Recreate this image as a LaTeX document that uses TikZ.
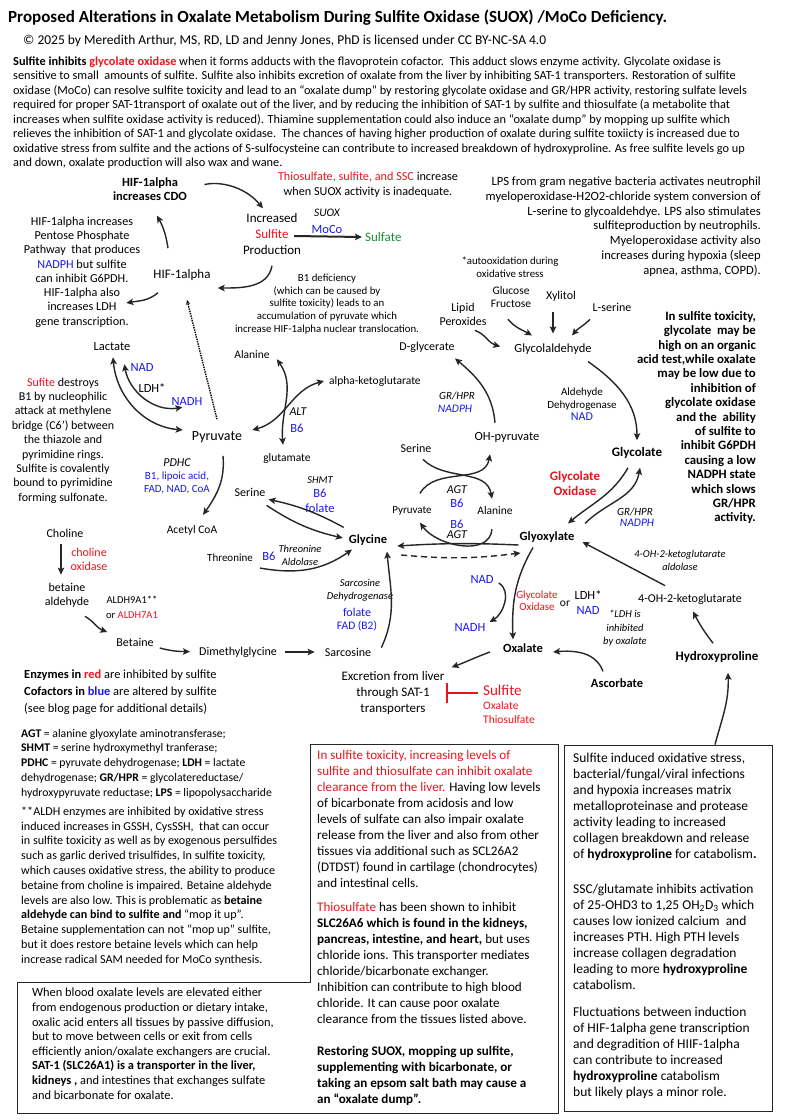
\documentclass[tikz,border=0pt]{standalone}
\usepackage{fontspec}
\setmainfont{Carlito}
\usetikzlibrary{arrows.meta}
\definecolor{enzred}{RGB}{235,20,30}
\definecolor{cofblue}{RGB}{25,25,235}
\definecolor{sulfgreen}{RGB}{30,140,50}
\newcommand{\fsz}[2]{\fontsize{#1}{#2}\selectfont}

\begin{document}
\begin{tikzpicture}[x=1pt, y=1pt,
      every node/.style={inner sep=1pt},
      met/.style={font=\fsz{12}{14}},
      metb/.style={font=\fsz{12.5}{14}\bfseries},
      enz/.style={font=\fsz{11}{13}\itshape},
      cof/.style={font=\fsz{12.5}{14}, text=cofblue},
      line/.style={draw=black!85, line width=1.4pt,
      -{Stealth[length=7pt, width=6.5pt, inset=1.5pt]}},
      dline/.style={line, {Stealth[length=7pt, width=6.5pt, inset=1.5pt]}-{Stealth[length=7pt, width=6.5pt, inset=1.5pt]}},
      inh/.style={draw=enzred, line width=2.2pt, -{Bar[width=20pt]}},
      boxline/.style={draw=black!85, line width=0.8pt}
    ]
    \fill[white] (0,0) rectangle (785,-1120);
    \useasboundingbox (0,0) rectangle (785,-1120);

    % Header
    \node[anchor=west, font=\fsz{17}{19}\bfseries] (title) at (7,-18) {Proposed Alterations in Oxalate Metabolism During Sulfite Oxidase (SUOX) /MoCo Deficiency.};
    \node[anchor=west, font=\fsz{13.5}{15}] (lic) at (22,-41) {© 2025 by Meredith Arthur, MS, RD, LD and Jenny Jones, PhD is licensed under CC BY-NC-SA 4.0};
    \node[anchor=west, align=left, font=\fsz{12.3}{14.5}] (intro) at (12,-112.5) {\textbf{Sulfite inhibits \textcolor{enzred}{glycolate oxidase}} when it forms adducts with the flavoprotein cofactor.\ \ This adduct slows enzyme activity. Glycolate oxidase is\\
      sensitive to small\ \ amounts of sulfite. Sulfite also inhibits excretion of oxalate from the liver by inhibiting SAT-1 transporters. Restoration of sulfite\\
      oxidase (MoCo) can resolve sulfite toxicity and lead to an “oxalate dump” by restoring glycolate oxidase and GR/HPR activity, restoring sulfate levels\\
      required for proper SAT-1transport of oxalate out of the liver, and by reducing the inhibition of SAT-1 by sulfite and thiosulfate (a metabolite that\\
      increases when sulfite oxidase activity is reduced). Thiamine supplementation could also induce an “oxalate dump” by mopping up sulfite which\\
      relieves the inhibition of SAT-1 and glycolate oxidase.\ \ The chances of having higher production of oxalate during sulfite toxiicty is increased due to\\
      oxidative stress from sulfite and the actions of S-sulfocysteine can contribute to increased breakdown of hydroxyproline. As free sulfite levels go up\\
      and down, oxalate production will also wax and wane.};

    % HIF-1alpha loop
    \node[align=center, font=\fsz{12.5}{14}\bfseries] (cdo) at (150,-189) {HIF-1alpha\\increases CDO};
    \node[align=center, font=\fsz{12.2}{15}] (thio) at (368,-185) {\textcolor{enzred}{Thiosulfate, sulfite, and SSC} increase\\when SUOX activity is inadequate.};
    \node[align=center, font=\fsz{13}{16}] (incr) at (272,-234) {Increased\\\textcolor{enzred}{Sulfite}\\Production};
    \node[enz, font=\fsz{11.5}{13}\itshape] (suox) at (327,-213) {SUOX};
    \node[cof] (moco) at (327,-229) {MoCo};
    \node[anchor=west, font=\fsz{13}{15}, text=sulfgreen] (sulfate) at (364,-237) {Sulfate};
    \node[anchor=east, align=right, font=\fsz{12.6}{14.8}] (lps) at (762,-226.5) {LPS from gram negative bacteria activates neutrophil\\
      myeloperoxidase-H2O2-chloride system conversion of\\
      L-serine to glycoaldehdye. LPS also stimulates\\
      sulfiteproduction by neutrophils.\\
      Myeloperoxidase activity also\\
      increases during hypoxia (sleep\\
      apnea, asthma, COPD).};
    \node[align=center, font=\fsz{12.2}{14.3}] (hiftxt) at (82,-272) {HIF-1alpha increases\\Pentose Phosphate\\Pathway\ \ that produces\\\textcolor{cofblue}{NADPH} but sulfite\\can inhibit G6PDH.\\HIF-1alpha also\\increases LDH\\gene transcription.};
    \node[font=\fsz{13}{15}] (hif) at (182,-275) {HIF-1alpha};
    \node[align=center, font=\fsz{10.8}{12.7}] (b1) at (327,-304) {B1 deficiency\\(which can be caused by\\sulfite toxicity) leads to an\\accumulation of pyruvate which\\increase HIF-1alpha nuclear translocation.};

    % Lactate, pyruvate, ALT
    \node[font=\fsz{12.5}{14}] (lactate) at (112,-347) {Lactate};
    \node[cof] (nadl) at (142,-367) {NAD};
    \node[font=\fsz{12.5}{14}] (ldh) at (152,-388) {LDH*};
    \node[cof] (nadhl) at (187,-401) {NADH};
    \node[font=\fsz{14}{16}] (pyr) at (217,-437) {Pyruvate};
    \node[align=center, font=\fsz{12}{14.4}] (b1txt) at (63,-440.5) {\textcolor{enzred}{Sufite} destroys\\B1 by nucleophilic\\attack at methylene\\bridge (C6’) between\\the thiazole and\\pyrimidine rings.\\Sulfite is covalently\\bound to pyrimidine\\forming sulfonate.};
    \node[font=\fsz{11.5}{14}] (alanine) at (252,-355) {Alanine};
    \node[anchor=west, font=\fsz{11.5}{14}] (akg) at (328,-381) {alpha-ketoglutarate};
    \node[enz, font=\fsz{12}{14}\itshape] (alt) at (298,-412) {ALT};
    \node[cof] (b6alt) at (297,-428) {B6};
    \node[font=\fsz{11.5}{14}] (glu) at (287,-458) {glutamate};
    \node[enz, font=\fsz{12}{14}\itshape] (pdhc) at (177,-463) {PDHC};
    \node[cof, align=center, font=\fsz{11}{12.5}] (pdhcof) at (177,-483) {B1, lipoic acid,\\FAD, NAD, CoA};
    \node[font=\fsz{11.5}{14}] (acoa) at (192,-530) {Acetyl CoA};

    % Glycine and betaine
    \node[met] (serine) at (250,-492) {Serine};
    \node[enz, font=\fsz{10.5}{12}\itshape] (shmt) at (320,-480) {SHMT};
    \node[cof] (b6shmt) at (320,-493) {B6};
    \node[cof] (folshmt) at (320,-508) {folate};
    \node[metb] (glycine) at (368,-540) {Glycine};
    \node[font=\fsz{11}{13}] (thr) at (230,-558) {Threonine};
    \node[cof] (b6thr) at (269,-556) {B6};
    \node[enz, align=center, font=\fsz{10.5}{12.5}\itshape] (thra) at (300,-555.5) {Threonine\\Aldolase};
    \node[enz, align=center, font=\fsz{10.5}{13}\itshape] (sdh) at (360,-590.5) {Sarcosine\\Dehydrogenase};
    \node[cof, font=\fsz{12}{14}] (folsdh) at (357,-612) {folate};
    \node[cof, font=\fsz{11.5}{14}] (fadsdh) at (357,-626) {FAD (B2)};
    \node[met] (sarc) at (348,-652) {Sarcosine};
    \node[met] (choline) at (65,-533) {Choline};
    \node[align=center, font=\fsz{12}{14}, text=enzred] (cholox) at (89,-559) {choline\\oxidase};
    \node[align=center, font=\fsz{12}{14}] (betald) at (67,-595) {betaine\\aldehyde};
    \node[align=center, font=\fsz{10.5}{15}] (aldh) at (132,-607.5) {ALDH9A1**\\or \textcolor{enzred}{ALDH7A1}};
    \node[met] (betaine) at (135,-642) {Betaine};
    \node[met] (dmg) at (238,-652) {Dimethylglycine};
    \node[anchor=west, align=left, font=\fsz{12.4}{17}] (legend) at (23,-692) {\textbf{Enzymes in \textcolor{enzred}{red}} are inhibited by sulfite\\\textbf{Cofactors in \textcolor{cofblue}{blue}} are altered by sulfite\\(see blog page for additional details)};

    % Glycolaldehyde side
    \node[met] (dglyc) at (427,-347) {D-glycerate};
    \node[font=\fsz{12.5}{14}] (glyald) at (553,-349) {Glycolaldehyde};
    \node[enz] (grhpr1) at (457,-396) {GR/HPR};
    \node[cof, font=\fsz{11.5}{13}\itshape] (nadph1) at (455,-409) {NADPH};
    \node[font=\fsz{12.5}{14}] (ohpyr) at (507,-437) {OH-pyruvate};
    \node[align=center, font=\fsz{12}{14}] (lipid) at (463,-314) {Lipid\\Peroxides};
    \node[align=center, font=\fsz{11.5}{13}] (gluc) at (511,-297.5) {Glucose\\Fructose};
    \node[met] (xyl) at (561,-296) {Xylitol};
    \node[met] (lser) at (612,-307) {L-serine};
    \node[align=center, font=\fsz{10.8}{13}] (autox) at (510,-267.5) {*autooxidation during\\oxidative stress};
    \node[align=center, font=\fsz{11}{12.5}] (aldhd) at (582,-404.5) {Aldehyde\\Dehydrogenase\\\textcolor{cofblue}{\fsz{12}{12.5}NAD}};
    \node[font=\fsz{13}{15}\bfseries] (glycolate) at (637,-453) {Glycolate};
    \node[align=center, font=\fsz{13}{15}\bfseries, text=enzred] (gox) at (575,-483.5) {Glycolate\\Oxidase};
    \node[enz] (grhpr2) at (635,-512) {GR/HPR};
    \node[cof, font=\fsz{11.5}{13}\itshape] (nadph2) at (637,-523) {NADPH};
    \node[anchor=east, align=right, font=\fsz{12.8}{14.4}\bfseries] (note) at (757,-417.5) {In sulfite toxicity,\\glycolate\ \ may be\\high on an organic\\acid test,while oxalate\\may be low due to\\inhibition of\\glycolate oxidase\\and the\ \ ability\\of sulfite to\\inhibit G6PDH\\causing a low\\NADPH state\\which slows\\GR/HPR\\activity.};

    % AGT and glyoxylate
    \node[met] (ser2) at (416,-448) {Serine};
    \node[font=\fsz{11}{13}] (pyr2) at (412,-511) {Pyruvate};
    \node[font=\fsz{11.5}{13}] (ala2) at (495,-511) {Alanine};
    \node[enz, font=\fsz{12}{13}\itshape] (agt1) at (457,-490) {AGT};
    \node[cof] (b6agt1) at (457,-503) {B6};
    \node[cof] (b6agt2) at (457,-524) {B6};
    \node[enz, font=\fsz{12}{13}\itshape] (agt2) at (457,-535) {AGT};
    \node[metb] (glyox) at (547,-537) {Glyoxylate};
    \node[cof] (nadg) at (482,-579) {NAD};
    \node[cof] (nadhg) at (470,-627) {NADH};
    \node[align=center, text=enzred, font=\fsz{11}{12}] (gox2) at (537,-601) {Glycolate\\Oxidase};
    \node[font=\fsz{11.5}{13}] (orr) at (565,-604) {or};
    \node[align=center, font=\fsz{12.5}{15}] (ldh2) at (588,-602.5) {LDH*\\\textcolor{cofblue}{NAD}};
    \node[align=center, font=\fsz{10.5}{13.5}\itshape] (ldhnote) at (625,-628.5) {*LDH is\\inhibited\\by oxalate};
    \node[metb] (oxalate) at (523,-648) {Oxalate};
    \node[align=center, font=\fsz{13}{16}] (excr) at (393,-693) {Excretion from liver\\through SAT-1\\transporters};
    \node[anchor=west, font=\fsz{15}{17}, text=enzred] (sulf) at (482,-690) {Sulfite};
    \node[anchor=west, font=\fsz{11.5}{13}, text=enzred] (oxr) at (482,-706) {Oxalate};
    \node[anchor=west, font=\fsz{11.5}{13}, text=enzred] (thior) at (482,-720) {Thiosulfate};
    \node[met] (ohkg) at (690,-599) {4-OH-2-ketoglutarate};
    \node[align=center, font=\fsz{10.5}{13}\itshape] (ohkga) at (680,-560.5) {4-OH-2-ketoglutarate\\aldolase};
    \node[font=\fsz{13}{15}\bfseries] (hyp) at (717,-657) {Hydroxyproline};
    \node[metb] (asc) at (617,-683) {Ascorbate};

    % Notes and boxes
    \node[anchor=west, align=left, font=\fsz{11.7}{14.7}] (abbr) at (20,-763.5) {\textbf{AGT} = alanine glyoxylate aminotransferase;\\
      \textbf{SHMT} = serine hydroxymethyl tranferase;\\
      \textbf{PDHC} = pyruvate dehydrogenase; \textbf{LDH} = lactate\\
      dehydrogenase; \textbf{GR/HPR} = glycolatereductase/\\
      hydroxypyruvate reductase; \textbf{LPS} = lipopolysaccharide};
    \node[anchor=west, align=left, font=\fsz{12.1}{14.8}] (aldhtxt) at (20,-886) {**ALDH enzymes are inhibited by oxidative stress\\
      induced increases in GSSH, CysSSH,\ \ that can occur\\
      in sulfite toxicity as well as by exogenous persulfides\\
      such as garlic derived trisulfides, In sulfite toxicity,\\
      which causes oxidative stress, the ability to produce\\
      betaine from choline is impaired. Betaine aldehyde\\
      levels are also low. This is problematic as \textbf{betaine}\\
      \textbf{aldehyde can bind to sulfite and} “mop it up”.\\
      Betaine supplementation can not “mop up” sulfite,\\
      but it does restore betaine levels which can help\\
      increase radical SAM needed for MoCo synthesis.};
    \draw[boxline] (310,-744) -- (558,-744) -- (558,-1113) -- (17,-1113) -- (17,-982) -- (310,-982) -- cycle;
    \node[boxline, draw, minimum width=208pt, minimum height=366pt, inner sep=0pt] (rbox) at (668,-928) {};
    \node[anchor=north west, align=left, font=\fsz{13.1}{16}] (midtxt) at (316,-749) {\textcolor{enzred}{In sulfite toxicity, increasing levels of}\\
      \textcolor{enzred}{sulfite and thiosulfate can inhibit oxalate}\\
      \textcolor{enzred}{clearance from the liver.} Having low levels\\
      of bicarbonate from acidosis and low\\
      levels of sulfate can also impair oxalate\\
      release from the liver and also from other\\
      tissues via additional such as SCL26A2\\
      (DTDST) found in cartilage (chondrocytes)\\
      and intestinal cells.\\[8pt]
      \textcolor{enzred}{Thiosulfate} has been shown to inhibit\\
      \textbf{SLC26A6 which is found in the kidneys,}\\
      \textbf{pancreas, intestine, and heart,} but uses\\
      chloride ions. This transporter mediates\\
      chloride/bicarbonate exchanger.\\
      Inhibition can contribute to high blood\\
      chloride. It can cause poor oxalate\\
      clearance from the tissues listed above.\\[16pt]
      \textbf{Restoring SUOX, mopping up sulfite,}\\
      \textbf{supplementing with bicarbonate, or}\\
      \textbf{taking an epsom salt bath may cause a}\\
      \textbf{an “oxalate dump”.}};
    \node[anchor=north west, align=left, font=\fsz{13.5}{16}] (rtxt) at (572,-752) {Sulfite induced oxidative stress,\\
      bacterial/fungal/viral infections\\
      and hypoxia increases matrix\\
      metalloproteinase and protease\\
      activity leading to increased\\
      collagen breakdown and release\\
      of \textbf{hydroxyproline} for catabolism\textbf{.}\\[19pt]
      SSC/glutamate inhibits activation\\
      of 25-OHD3 to 1,25 OH\textsubscript{2}D\textsubscript{3} which\\
      causes low ionized calcium\ \ and\\
      increases PTH. High PTH levels\\
      increase collagen degradation\\
      leading to more \textbf{hydroxyproline}\\
      catabolism.\\[11pt]
      Fluctuations between induction\\
      of HIF-1alpha gene transcription\\
      and degradition of HIIF-1alpha\\
      can contribute to increased\\
      \textbf{hydroxyproline} catabolism\\
      but likely plays a minor role.};
    \node[anchor=north west, align=left, font=\fsz{12.4}{14.6}] (lltxt) at (31,-987) {When blood oxalate levels are elevated either\\
      from endogenous production or dietary intake,\\
      oxalic acid enters all tissues by passive diffusion,\\
      but to move between cells or exit from cells\\
      efficiently anion/oxalate exchangers are crucial.\\
      \textbf{SAT-1 (SLC26A1) is a transporter in the liver,}\\
      \textbf{kidneys ,} and intestines that exchanges sulfate\\
      and bicarbonate for oxalate.};

    % Paths
    \draw[line, shorten <=17pt] (cdo.east) to[out=15, in=130] ([shift={(-9pt,4pt)}]incr.north);
    \draw[line] ([shift={(-14pt,20pt)}]hif.north) to[bend right=10] ([shift={(7pt,-14pt)}]cdo.south);
    \draw[line] ([yshift=-10pt]incr.south) to[out=-100, in=0] ([shift={(6pt,-13pt)}]hif.east);
    \draw[line] ([shift={(-24pt,-11pt)}]hif.south) to[out=-140, in=10] ([shift={(-15pt,-31pt)}]hiftxt.east);
    \draw[line, line width=2pt] ([shift={(-8pt,-2pt)}]incr.east) -- ([xshift=-2pt]sulfate.west);
    \draw[densely dotted, line width=1.4pt, -{Stealth[length=5pt, width=4pt]}] ([yshift=11pt]pyr.north) -- ([shift={(5pt,-18pt)}]hif.south);
    \path[dline] ([shift={(1pt,-5pt)}]lactate.south) to[out=-85, in=175] ([shift={(-8pt,7pt)}]pyr.west);
    \path[dline] ([shift={(-5pt,8pt)}]nadl.south west) to[out=-80, in=190] ([shift={(12pt,-1pt)}]nadhl.south west);
    \path[dline] ([shift={(6pt,1pt)}]alanine.south east) to[out=-55, in=95] ([shift={(-4pt,7pt)}]glu.north);
    \path[dline] ([xshift=-4pt]akg.west) to[out=195, in=15] ([shift={(9pt,7pt)}]pyr.east);
    \draw[line] ([shift={(6pt,-12pt)}]pyr.south) to[out=-85, in=55] ([shift={(11pt,9pt)}]acoa.north);
    \draw[line] ([shift={(-4pt,6pt)}]glycine.north west) to[bend right=8] ([shift={(2pt,-2pt)}]serine.south east);
    \draw[line] ([shift={(0pt,-8pt)}]serine.south east) to[bend right=10] ([shift={(-5pt,2pt)}]glycine.west);
    \draw[line] ([shift={(6pt,-5pt)}]thr.south east) to[out=-10, in=215] ([shift={(-16pt,-3pt)}]glycine.south);
    \draw[line] ([shift={(9pt,-1pt)}]sarc.north east) to[out=65, in=-85] ([shift={(19pt,-5pt)}]glycine.south);
    \draw[line] ([shift={(-4pt,-6pt)}]choline.south) -- ([shift={(-6pt,7pt)}]betald.north);
    \draw[line] ([shift={(18pt,-8pt)}]betald.south) to[out=-30, in=160] ([shift={(-8pt,10pt)}]betaine.west);
    \draw[line, shorten >=8pt] ([shift={(5pt,-6pt)}]betaine.east) to[out=-15, in=178] (dmg.west);
    \draw[line] ([xshift=7pt]dmg.east) -- ([xshift=-9pt]sarc.west);
    \draw[line] ([shift={(-12pt,8pt)}]ohpyr.north) to[out=95, in=-40] ([shift={(28pt,-5pt)}]dglyc.south);
    \draw[line] ([shift={(12pt,-4pt)}]lipid.south) to[out=-20, in=165] ([shift={(-13pt,-4pt)}]glyald.north west);
    \draw[line] ([shift={(-3pt,-10pt)}]gluc.south) to[out=-50, in=150] ([shift={(-21pt,7pt)}]glyald.north);
    \draw[line] ([shift={(-8pt,-10pt)}]xyl.south) -- ([yshift=9pt]glyald.north);
    \draw[line] ([shift={(-22pt,-7pt)}]lser.south) to[out=-135, in=50] ([shift={(19pt,7pt)}]glyald.north);
    \draw[line] ([shift={(35pt,-6pt)}]glyald.south) to[out=-35, in=90] ([yshift=6pt]glycolate.north);
    \draw[line] ([shift={(-9pt,-8pt)}]glycolate.south) to[out=-120, in=40] ([shift={(21pt,7pt)}]glyox.north);
    \draw[line] ([shift={(38pt,7pt)}]glyox.north) to[out=45, in=-100] ([shift={(3pt,-8pt)}]glycolate.south);
    \draw[line] ([shift={(7pt,-6pt)}]ser2.south) to[out=-45, in=100] ([shift={(-3pt,7pt)}]ala2.north);
    \draw[line] ([shift={(8pt,12pt)}]pyr2.north) to[out=60, in=-100] ([shift={(-17pt,-11pt)}]ohpyr.south);
    \draw[line] ([shift={(-3pt,-13pt)}]ala2.south) to[out=-95, in=-55] ([shift={(8pt,-6pt)}]pyr2.south);
    \draw[line] ([shift={(0pt,-8pt)}]glyox.west) to[bend right=3] ([shift={(9pt,-6pt)}]glycine.east);
    \draw[line, dash pattern=on 6pt off 4pt] ([shift={(13pt,-15pt)}]glycine.east) to[bend right=6] ([shift={(2pt,-16pt)}]glyox.west);
    \draw[line] ([shift={(-14pt,-4pt)}]glyox.south) to[out=-120, in=92] ([shift={(-10pt,3pt)}]oxalate.north);
    \draw[line] ([shift={(4pt,-4pt)}]nadg.east) to[out=-30, in=30] ([shift={(3pt,5pt)}]nadhg.east);
    \draw[line] ([shift={(-12pt,-4pt)}]oxalate.west) to[out=200, in=20] ([shift={(6pt,3pt)}]excr.north east);
    \draw[inh, shorten <=4pt] (sulf.west |- excr.east) -- (excr.east);
    \draw[line] ([shift={(-25pt,7pt)}]ohkg.north) -- ([shift={(7pt,-5pt)}]glyox.east);
    \draw[line] ([shift={(-4pt,7pt)}]hyp.north) to[bend left=5] ([shift={(3pt,-6pt)}]ohkg.south);
    \draw[line] ([shift={(-14pt,6pt)}]asc.north) to[out=110, in=5] ([shift={(9pt,-4pt)}]oxalate.east);
    \draw[line] ([xshift=47pt]rbox.north) to[out=75, in=-88] ([shift={(11pt,-9pt)}]hyp.south);
  \end{tikzpicture}
\end{document}
